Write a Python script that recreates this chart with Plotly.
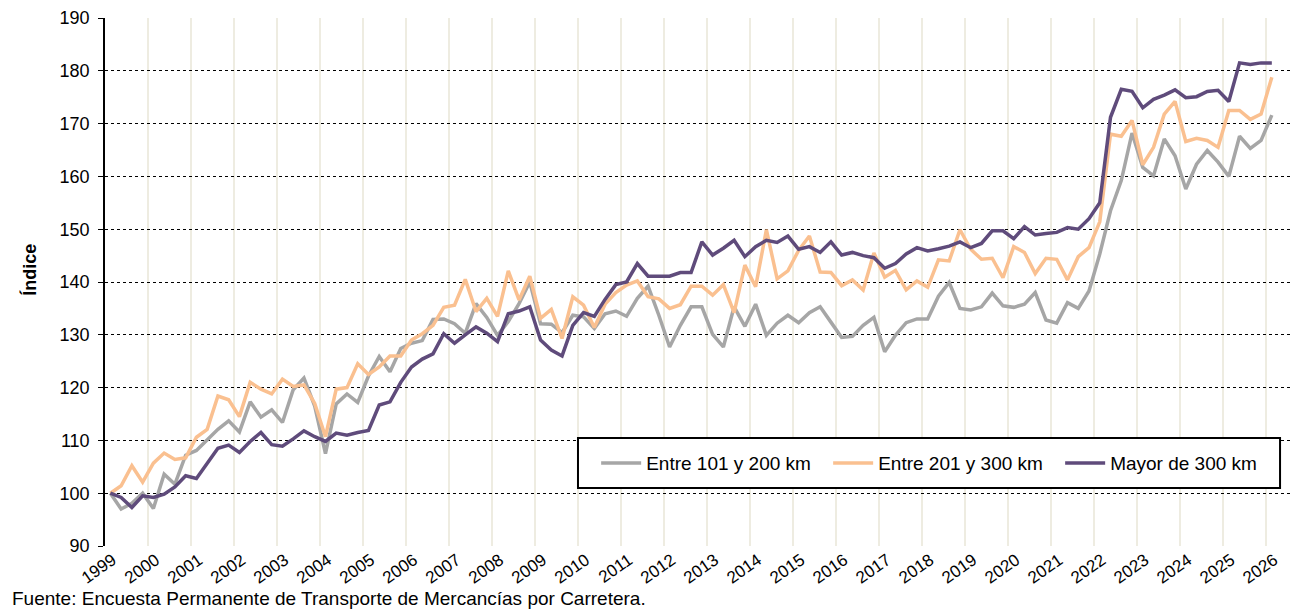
import plotly.graph_objects as go

# trimestral, 1999 T1 - 2026 T1
years = list(range(1999, 2027))

entre_101_200 = [
    100, 97, 98.1, 100, 97.1, 103.6, 101.7, 107.2, 108.1, 110, 112.1, 113.7, 111.6, 117.3, 114.4, 115.8,
    113.4, 119.6, 121.8, 116.5, 107.5, 116.9, 118.8, 117.2, 122.2, 125.9, 123, 127.4, 128.4, 128.9, 132.9, 133,
    132.1, 130.3, 135.9, 133.3, 129.9, 132.5, 135.9, 140, 132.1, 132, 130.4, 133.7, 133.4, 131.2, 134, 134.5,
    133.5, 136.9, 139.2, 133.7, 127.7, 131.8, 135.3, 135.3, 130.1, 127.7, 135.3, 131.6, 135.8, 129.9, 132.2,
    133.7, 132.3, 134.2, 135.3, 132.4, 129.5, 129.7, 131.8, 133.3, 126.8, 129.9, 132.3, 133, 133, 137.3,
    139.9, 135, 134.7, 135.3, 137.9, 135.5, 135.2, 135.8, 138, 132.8, 132.2, 136.1, 135, 138.3, 145.3, 153.5,
    159.2, 168.2, 161.7, 160.1, 167.1, 163.9, 157.6, 162.3, 164.9, 162.7, 160, 167.6, 165.3, 166.8, 171.6,
]

entre_201_300 = [
    100, 101.4, 105.2, 102.1, 105.7, 107.6, 106.4, 106.7, 110.6, 112.1, 118.4, 117.7, 114.5, 121, 119.7, 118.8,
    121.6, 120.2, 120.5, 117, 110.7, 119.7, 120, 124.5, 122.5, 123.9, 126, 126, 129, 130.2, 131.8, 135.2,
    135.6, 140.5, 134.4, 136.9, 133.5, 142.1, 136.6, 141.1, 133.1, 134.8, 129.3, 137.2, 135.6, 131.4, 135.8, 138,
    139.4, 140.2, 137.2, 136.8, 135, 135.7, 139.2, 139.2, 137.5, 139.5, 134.2, 143.2, 139.1, 149.9, 140.6,
    142.1, 146, 148.7, 141.9, 141.8, 139.3, 140.4, 138.5, 145.5, 140.9, 142.2, 138.5, 140.2, 139, 144.2,
    144, 149.9, 146.2, 144.3, 144.5, 140.8, 146.7, 145.6, 141.6, 144.5, 144.3, 140.4, 144.8, 146.5, 151.4, 168,
    167.6, 170.6, 162.2, 165.5, 171.8, 174.2, 166.6, 167.2, 166.8, 165.5, 172.5, 172.5, 170.8, 171.8, 178.8,
]

mayor_300 = [
    100, 99.2, 97.3, 99.5, 99.2, 99.8, 101.2, 103.3, 102.8, 105.7, 108.5, 109.1, 107.7, 109.8, 111.5, 109.2,
    108.9, 110.3, 111.8, 110.7, 109.8, 111.4, 111, 111.5, 111.9, 116.7, 117.3, 121, 123.9, 125.4, 126.4, 130.2,
    128.4, 130, 131.5, 130.3, 128.7, 134, 134.5, 135.3, 129, 127.1, 126, 131.8, 134.2, 133.5, 136.7, 139.5,
    140, 143.5, 141.1, 141.1, 141.1, 141.8, 141.8, 147.6, 145.1, 146.4, 147.9, 144.8, 146.7, 147.9, 147.5,
    148.7, 146.2, 146.7, 145.6, 147.6, 145.1, 145.6, 145, 144.6, 142.6, 143.5, 145.3, 146.5, 145.9, 146.3,
    146.8, 147.6, 146.5, 147.3, 149.7, 149.7, 148.2, 150.5, 148.9, 149.2, 149.4, 150.3, 150, 152, 155, 171.2,
    176.5, 176.1, 173, 174.6, 175.4, 176.4, 174.9, 175.1, 176.1, 176.3, 174.2, 181.5, 181.2, 181.5, 181.5,
]

# posicion de cada trimestre en el eje (centro del trimestre)
x = [1999 + (i + 0.5) / 4 for i in range(len(mayor_300))]

series = [
    ("Entre 101 y 200 km", entre_101_200, "#A6A6A6"),
    ("Entre 201 y 300 km", entre_201_300, "#FAC090"),
    ("Mayor de 300 km", mayor_300, "#5F4B7B"),
]

fig = go.Figure()
for name, vals, color in series:
    fig.add_trace(go.Scatter(x=x, y=vals, name=name, mode="lines",
                             line=dict(color=color, width=3.5)))

font = "Liberation Sans, Arial, sans-serif"

# la pagina tiene 8px de margen, la figura se ajusta a ello
fig.update_layout(
    width=1292, height=603,
    margin=dict(l=97, r=0, t=10, b=65),
    paper_bgcolor="white", plot_bgcolor="white",
    font=dict(family=font, size=18, color="black"),
    showlegend=True,
    legend=dict(
        orientation="h", x=0.411, y=0.157, xanchor="left", yanchor="middle",
        bgcolor="rgba(0,0,0,0)", borderwidth=0,
        font=dict(size=19, family=font), itemwidth=40,
        entrywidth=177, entrywidthmode="pixels",
    ),
)

# marco de la leyenda
fig.add_shape(type="rect", xref="paper", yref="paper",
              x0=0.3958, x1=0.9833, y0=0.1098, y1=0.2045,
              line=dict(color="black", width=2), fillcolor="white", layer="above")

fig.update_xaxes(
    range=[1999, 2026.78], tickvals=[y + 0.18 for y in years], ticktext=[str(y) for y in years],
    tickangle=-35, showgrid=False,
    minor=dict(tickvals=years, showgrid=True, gridcolor="#EEECE1", gridwidth=2, ticks=""),
    zeroline=False, showline=False, ticks="", tickfont=dict(size=17),
    automargin=False,
)
fig.update_yaxes(
    range=[90, 190], dtick=10, showgrid=True, gridcolor="black", gridwidth=1,
    griddash="dot", zeroline=False, showline=True, linecolor="black", linewidth=1.5,
    ticks="outside", ticklen=5, tickcolor="black", tickfont=dict(size=18),
    ticklabelstandoff=5, automargin=False,
)

fig.add_annotation(text="<b>Índice</b>", textangle=-90, xref="paper", yref="paper",
                   x=-0.0628, y=0.523, xanchor="center", yanchor="middle",
                   showarrow=False, font=dict(size=18))
fig.add_annotation(text="Fuente: Encuesta Permanente de Transporte de Mercancías por Carretera.",
                   xref="paper", yref="paper", x=-0.0795, y=-0.123,
                   xanchor="left", yanchor="bottom", showarrow=False, font=dict(size=19))

fig.write_html("out.html")
